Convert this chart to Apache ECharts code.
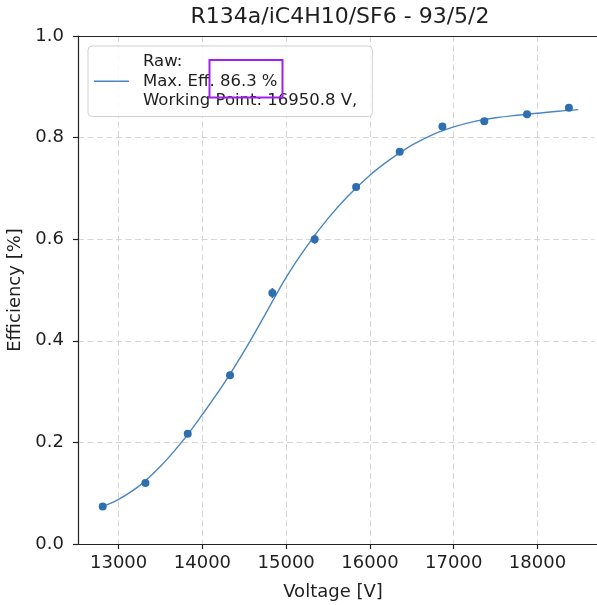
<!DOCTYPE html>
<html>
<head>
<meta charset="utf-8">
<script src="https://cdn.jsdelivr.net/npm/echarts@6/dist/echarts.min.js"></script>
<style>
  html, body { margin: 0; padding: 0; background: #ffffff; overflow: hidden; }
  #chart { width: 597px; height: 605px; }
</style>
</head>
<body>
<div id="chart"></div>
<script>
// Measured efficiency points (applied high voltage in V, efficiency fraction)
const voltage    = [12810, 13320, 13825, 14330, 14835, 15340, 15835, 16355, 16865, 17365, 17875, 18375];
const efficiency = [0.074, 0.120, 0.217, 0.332, 0.494, 0.600, 0.703, 0.772, 0.822, 0.832, 0.846, 0.859];
const effError   = [0.004, 0.005, 0.006, 0.007, 0.010, 0.009, 0.007, 0.006, 0.005, 0.005, 0.004, 0.004];

// Sigmoid fit curve, sampled along the voltage range
const fitVoltage    = [12809, 13000, 13250, 13500, 13750, 14000, 14250, 14500, 14750, 15000, 15250, 15500,
                       15750, 16000, 16250, 16500, 16750, 17000, 17250, 17500, 17750, 18000, 18250, 18487];
const fitEfficiency = [0.074, 0.088, 0.115, 0.153, 0.200, 0.255, 0.314, 0.380, 0.452, 0.525, 0.587, 0.641,
                       0.687, 0.726, 0.758, 0.785, 0.806, 0.821, 0.832, 0.839, 0.844, 0.848, 0.852, 0.855];

// Axis ticks
const xTicks = [13000, 14000, 15000, 16000, 17000, 18000];

// Legend entry text
const legendLines = ['Raw:', 'Max. Eff. 86.3 %', 'Working Point: 16950.8 V,'];

const FONT = 'DejaVu Sans';
const TEXT = '#1e1e1e';
const SPINE = '#222222';
const GRID = '#d6d6d6';
const LINE_COLOR = '#4a86c0';
const POINT_COLOR = '#2f6fb0';
const X_MIN = 12515, X_MAX = 18770;

const points = voltage.map((v, i) => [v, efficiency[i], effError[i]]);
const fitData = fitVoltage.map((v, i) => [v, fitEfficiency[i]]);

const chart = echarts.init(document.getElementById('chart'), null, { renderer: 'canvas' });

chart.setOption({
  animation: false,
  title: {
    text: 'R134a/iC4H10/SF6 - 93/5/2',
    left: 340,
    top: 6,
    padding: 0,
    textAlign: 'center',
    textStyle: { fontFamily: FONT, fontSize: 22, fontWeight: 'normal', color: TEXT }
  },
  grid: {
    left: 78, top: 36, width: 524, bottom: 61,
    show: false,
    containLabel: false,
    outerBoundsMode: 'none'
  },
  legend: {
    left: 88,
    top: 46,
    orient: 'vertical',
    data: ['fit'],
    icon: 'path://M0,0H35V1.5H0Z',
    itemWidth: 35,
    itemHeight: 1.5,
    padding: [6, 15, 6, 6],
    backgroundColor: 'rgba(255,255,255,0.85)',
    borderColor: '#d0d0d0',
    borderWidth: 1,
    borderRadius: 4,
    formatter: () => legendLines.join('\n'),
    textStyle: {
      fontFamily: FONT, fontSize: 16.5, color: TEXT, lineHeight: 19.5,
      padding: [0, 0, 0, 9]
    }
  },
  xAxis: [
    {
      type: 'value',
      position: 'bottom',
      min: X_MIN,
      max: X_MAX,
      name: 'Voltage [V]',
      nameLocation: 'middle',
      nameGap: 39,
      nameTextStyle: { fontFamily: FONT, fontSize: 18, color: TEXT, padding: [0, 14, 0, 0] },
      axisLine: { show: true, lineStyle: { color: SPINE, width: 1.2 } },
      axisTick: { show: true, inside: false, length: 5, lineStyle: { color: SPINE, width: 1.2 }, customValues: xTicks },
      axisLabel: {
        customValues: xTicks,
        margin: 10,
        fontFamily: FONT, fontSize: 18, color: TEXT,
        formatter: (v) => String(v)
      },
      splitLine: { show: true, lineStyle: { color: GRID, type: [6, 3.5], width: 1 } }
    },
    {
      // top spine only
      type: 'value',
      position: 'top',
      min: X_MIN,
      max: X_MAX,
      axisLine: { show: true, lineStyle: { color: SPINE, width: 1.2 } },
      axisTick: { show: false },
      axisLabel: { show: false },
      splitLine: { show: false }
    }
  ],
  yAxis: {
    type: 'value',
    min: 0,
    max: 1,
    interval: 0.2,
    name: 'Efficiency [%]',
    nameLocation: 'middle',
    nameGap: 47,
    nameTextStyle: { fontFamily: FONT, fontSize: 18, color: TEXT },
    axisLine: { show: true, lineStyle: { color: SPINE, width: 1.2 } },
    axisTick: { show: true, inside: false, length: 5, lineStyle: { color: SPINE, width: 1.2 } },
    axisLabel: {
      margin: 14,
      fontFamily: FONT, fontSize: 18, color: TEXT,
      formatter: (v) => v.toFixed(1)
    },
    splitLine: { show: true, lineStyle: { color: GRID, type: [6, 3.5], width: 1 } }
  },
  series: [
    {
      name: 'fit',
      type: 'line',
      data: fitData,
      smooth: 0.4,
      showSymbol: false,
      symbol: 'none',
      color: LINE_COLOR,
      lineStyle: { color: LINE_COLOR, width: 1.4 },
      z: 3
    },
    {
      name: 'errors',
      type: 'custom',
      data: points,
      z: 4,
      renderItem: (params, api) => {
        const x = api.value(0), y = api.value(1), e = api.value(2);
        const lo = api.coord([x, y - e]);
        const hi = api.coord([x, y + e]);
        return {
          type: 'line',
          shape: { x1: lo[0], y1: lo[1], x2: hi[0], y2: hi[1] },
          style: { stroke: POINT_COLOR, lineWidth: 1.8 }
        };
      }
    },
    {
      name: 'data',
      type: 'scatter',
      data: points,
      symbol: 'circle',
      symbolSize: 8,
      itemStyle: { color: POINT_COLOR, opacity: 1 },
      z: 5
    }
  ],
  graphic: [
    {
      // highlight box around the efficiency value
      type: 'rect',
      z: 100,
      shape: { x: 209.5, y: 60, width: 73, height: 37.5 },
      style: { fill: null, stroke: '#a020f0', lineWidth: 2 }
    },
    {
      // keep the open right side of the plot frame clean at the page edge
      type: 'rect',
      z: 90,
      silent: true,
      shape: { x: 594.5, y: 37, width: 3, height: 507 },
      style: { fill: '#ffffff' }
    }
  ]
});
</script>
</body>
</html>
